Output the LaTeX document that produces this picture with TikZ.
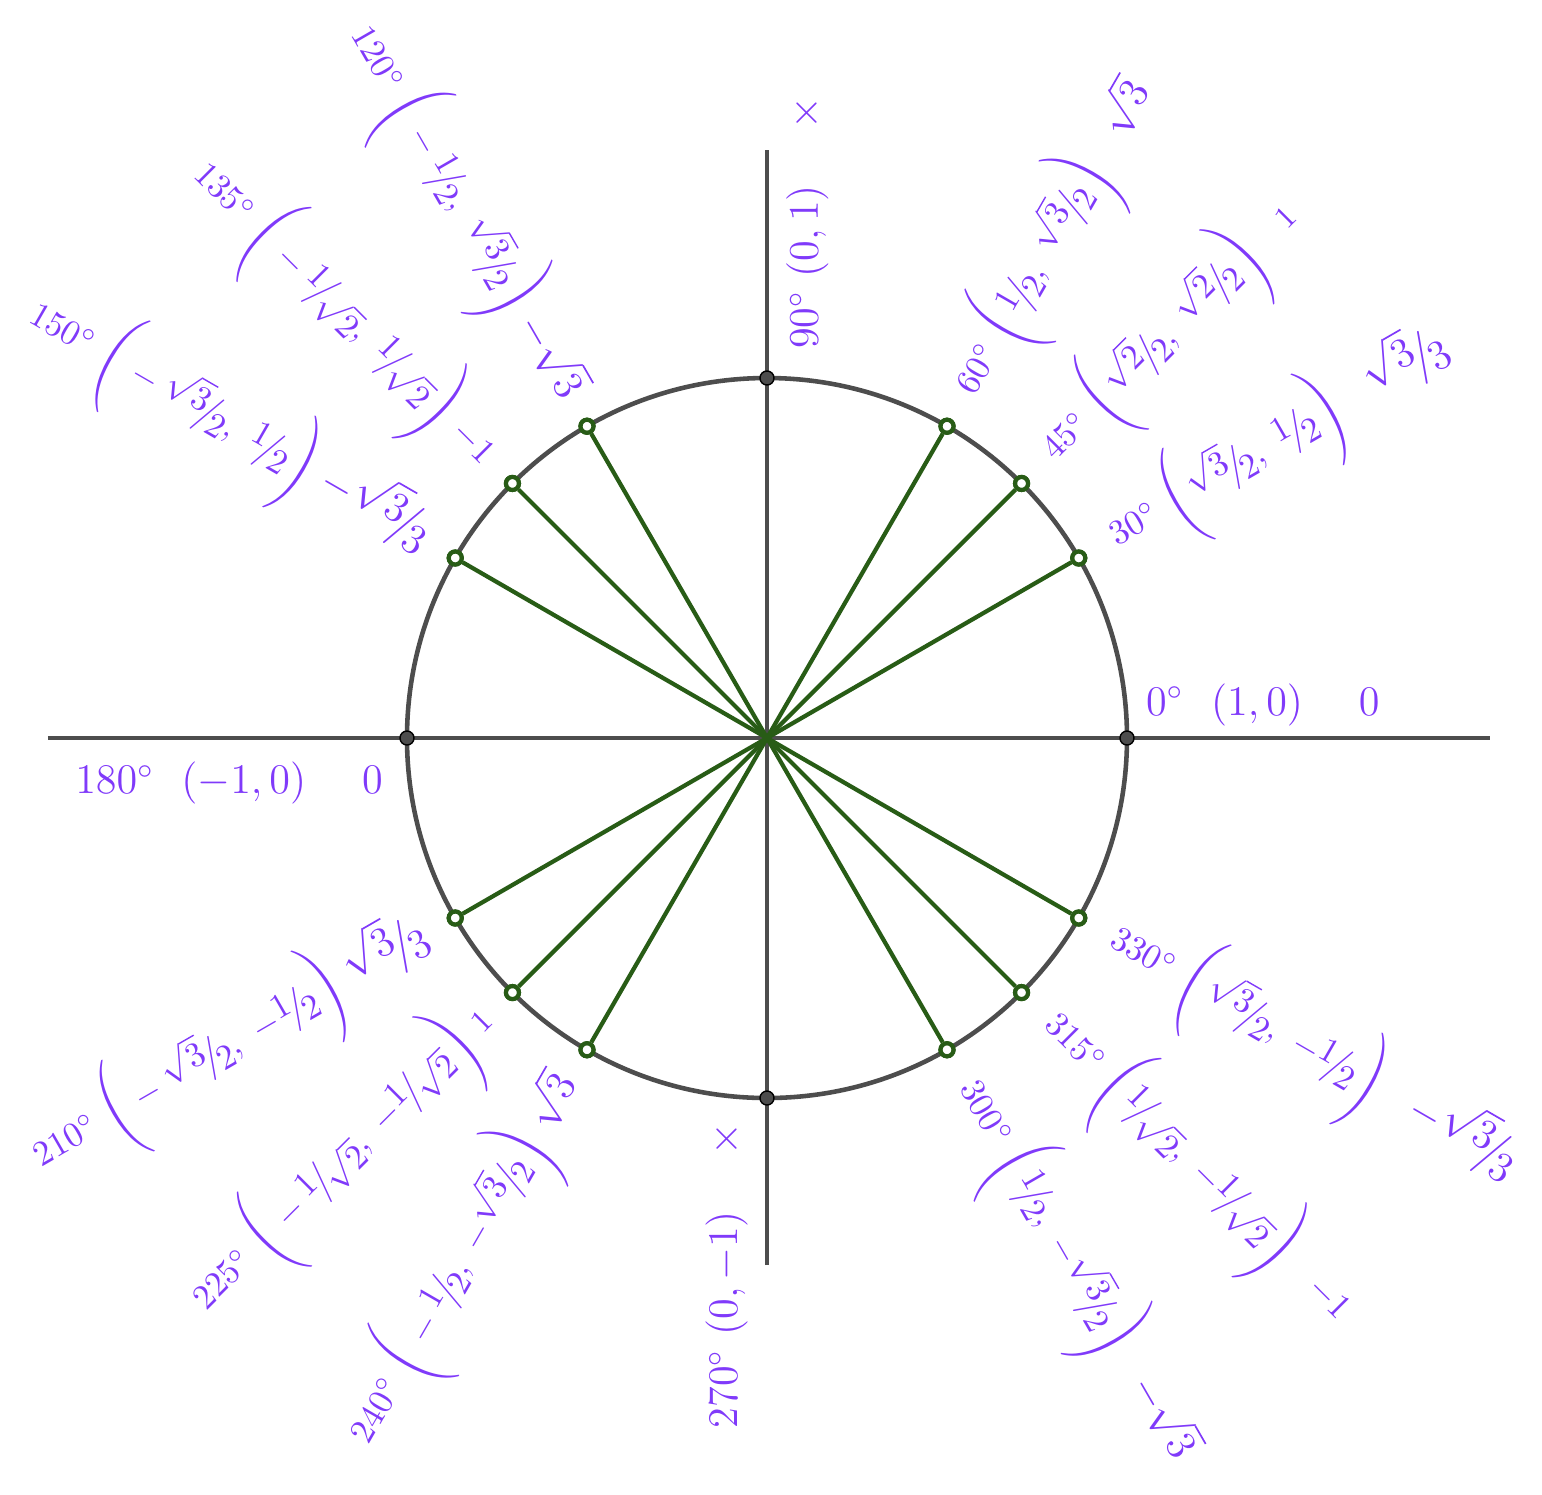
\documentclass[tikz,border=0pt]{standalone}
\usepackage{amsmath}
\usepackage{tikz}
\usetikzlibrary{positioning,calc}
\definecolor{lblc}{RGB}{128,58,250}
\definecolor{spk}{RGB}{40,92,22}
\definecolor{circ}{RGB}{77,77,77}
\tikzset{
  lbl/.style={text=lblc, font=\normalsize, inner sep=1pt},
  spoke/.style={draw=spk, line width=1.2pt},
  axis/.style={draw=circ, line width=1.1pt},
  dotp/.style={circle, draw=black, fill=circ, inner sep=0pt, minimum size=0.14cm},
  ring/.style={circle, draw=spk, fill=white, line width=1.2pt, inner sep=0pt, minimum size=0.13cm}
}
\newcommand{\sfr}[2]{\raisebox{.55ex}{$#1$}\!\big/\!\raisebox{-.55ex}{$#2$}}
\newcommand{\crd}[1]{{\normalsize$\left(\vphantom{\Bigg|}#1\right)$}}
\begin{document}
\begin{tikzpicture}
    \useasboundingbox (-7.67,-7.56) rectangle (7.75,7.38);
    % axes and circle
    \coordinate (O) at (0,0);
    \draw[axis] (-7.19,0) -- (7.23,0);
    \draw[axis] (0,-5.27) -- (0,5.88);
    \draw[circ, line width=1.3pt] (O) circle (3.6);
    % spokes
    \foreach \a in {30,45,60,120,135,150,210,225,240,300,315,330}{
        \node[ring] (p\a) at (\a:3.6) {};
        \draw[spoke] (O) -- (p\a);
        \node[ring] at (p\a) {};
    }
    \foreach \a in {0,90,180,270}
        \node[dotp] (p\a) at (\a:3.6) {};
    % right side labels
    \foreach \a/\d/\c/\t in {
        30/30/{\sfr{\sqrt3}{2},\ \sfr12}/{\large$\sfr{\sqrt3}{3}$},
        45/45/{\sfr{\sqrt2}{2},\ \sfr{\sqrt2}{2}}/{\small$1$},
        60/60/{\sfr12,\ \sfr{\sqrt3}{2}}/{\large$\sqrt3$},
        -30/330/{\sfr{\sqrt3}{2},\ -\sfr12}/{\large$-\sfr{\sqrt3}{3}$},
        -45/315/{\sfr1{\sqrt2},\ -\sfr1{\sqrt2}}/{$-1$},
        -60/300/{\sfr12,\ -\sfr{\sqrt3}{2}}/{\large$-\sqrt3$}}
        \node[lbl, rotate=\a, anchor=west] (l\d) at (\a:3.95)
            {$\d^\circ$\ \crd{\c}\quad\t};
    % left side labels
    \foreach \a/\c/\t in {
        120/{-\sfr12,\ \sfr{\sqrt3}{2}}/{\large$-\sqrt3$},
        135/{-\sfr1{\sqrt2},\ \sfr1{\sqrt2}}/{$-1$},
        150/{-\sfr{\sqrt3}{2},\ \sfr12}/{\large$-\sfr{\sqrt3}{3}$},
        210/{-\sfr{\sqrt3}{2},\ -\sfr12}/{\large$\sfr{\sqrt3}{3}$},
        225/{-\sfr1{\sqrt2},\ -\sfr1{\sqrt2}}/{\small$1$},
        240/{-\sfr12,\ -\sfr{\sqrt3}{2}}/{\large$\sqrt3$}}
        \node[lbl, rotate=\a-180, anchor=east] (l\a) at (\a:3.9)
            {$\a^\circ$\ \crd{\c}\ \t};
    % axis labels
    \node[lbl, font=\large, anchor=south west] (l0) at (3.75,0.08)
        {$0^\circ$\ \ $(1,0)$\quad\ $0$};
    \node[lbl, font=\large, anchor=north east] (l180) at (-3.8,-0.2)
        {$180^\circ$\ \ $(-1,0)$\quad\ $0$};
    \node[lbl, font=\large, rotate=90, anchor=north west] (l90) at (0.15,3.85)
        {$90^\circ$\ $(0,1)$\quad\ $\times$};
    \node[lbl, font=\large, rotate=90, anchor=south east] (l270) at (-0.15,-3.8)
        {$270^\circ$\ $(0,-1)$\quad\ $\times$};
\end{tikzpicture}
\end{document}
